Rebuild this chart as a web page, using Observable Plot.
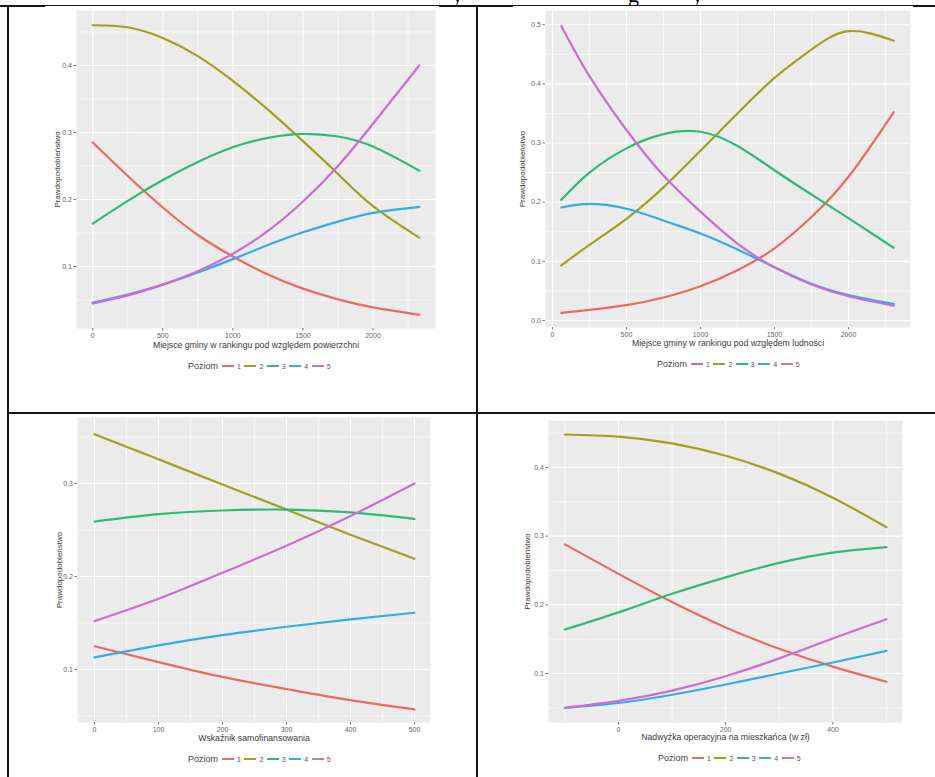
<!DOCTYPE html>
<html><head><meta charset="utf-8">
<script src="https://cdn.jsdelivr.net/npm/d3@7"></script>
<script src="https://cdn.jsdelivr.net/npm/@observablehq/plot@0.6"></script>
<style>
body{margin:0;background:#fff;}
#page{position:relative;width:935px;height:777px;overflow:hidden;font-family:"Liberation Sans",Arial,sans-serif;background:#fff;}
.rule{position:absolute;background:#151515;}
.legend{position:absolute;display:flex;align-items:center;height:12px;color:#444;white-space:nowrap;}
.legend .ttl{font-size:9px;margin-right:4px;}
.legend .key{display:inline-block;width:12px;height:2px;margin-right:3px;}
.legend .lab{font-size:7px;margin-right:3.5px;color:#555;}
.glyph{position:absolute;font-family:"Liberation Serif","Times New Roman",serif;font-size:22px;color:#000;line-height:1;}
#topclip{position:absolute;left:0;top:0;width:935px;height:5px;overflow:hidden;}
</style></head><body><div id="page"><div id="topclip"></div></div>
<script>
// ---------- shared ----------
const levels = ["1", "2", "3", "4", "5"];
const levelColors = ["#EE6A60", "#A3A01C", "#2DBB78", "#33ADEA", "#CF6BD5"];
const legendTitle = "Poziom";
const yTitle = "Prawdopodobieństwo";

// ---------- panel 1 : powierzchnia ----------
const p1Title = "Miejsce gminy w rankingu pod względem powierzchni";
const p1X = [0, 250, 500, 750, 1000, 1250, 1500, 1750, 2000, 2330];
const p1L1 = [0.285, 0.235, 0.188, 0.147, 0.115, 0.088, 0.067, 0.051, 0.039, 0.028];
const p1L2 = [0.460, 0.457, 0.441, 0.414, 0.377, 0.334, 0.287, 0.238, 0.190, 0.143];
const p1L3 = [0.164, 0.198, 0.229, 0.256, 0.278, 0.292, 0.298, 0.294, 0.279, 0.243];
const p1L4 = [0.046, 0.058, 0.073, 0.091, 0.111, 0.132, 0.151, 0.167, 0.180, 0.189];
const p1L5 = [0.045, 0.057, 0.073, 0.093, 0.119, 0.153, 0.197, 0.250, 0.313, 0.400];
const p1XTicks = [0, 500, 1000, 1500, 2000];
const p1YTicks = [0.1, 0.2, 0.3, 0.4];

// ---------- panel 2 : ludność ----------
const p2Title = "Miejsce gminy w rankingu pod względem ludności";
const p2X = [60, 250, 500, 750, 1000, 1250, 1500, 1750, 2000, 2305];
const p2L1 = [0.013, 0.018, 0.026, 0.039, 0.058, 0.085, 0.122, 0.175, 0.243, 0.352];
const p2L2 = [0.093, 0.128, 0.172, 0.225, 0.287, 0.350, 0.410, 0.458, 0.489, 0.473];
const p2L3 = [0.204, 0.250, 0.291, 0.315, 0.319, 0.295, 0.254, 0.213, 0.173, 0.123];
const p2L4 = [0.191, 0.197, 0.189, 0.169, 0.147, 0.120, 0.090, 0.062, 0.043, 0.028];
const p2L5 = [0.498, 0.413, 0.322, 0.245, 0.184, 0.130, 0.090, 0.061, 0.041, 0.025];
const p2XTicks = [0, 500, 1000, 1500, 2000];
const p2YTicks = [0.0, 0.1, 0.2, 0.3, 0.4, 0.5];

// ---------- panel 3 : samofinansowanie ----------
const p3Title = "Wskaźnik samofinansowania";
const p3X = [0, 100, 200, 300, 400, 500];
const p3L1 = [0.125, 0.108, 0.092, 0.079, 0.067, 0.057];
const p3L2 = [0.353, 0.326, 0.299, 0.272, 0.245, 0.219];
const p3L3 = [0.259, 0.267, 0.271, 0.272, 0.269, 0.262];
const p3L4 = [0.113, 0.126, 0.137, 0.146, 0.154, 0.161];
const p3L5 = [0.152, 0.176, 0.204, 0.233, 0.265, 0.300];
const p3XTicks = [0, 100, 200, 300, 400, 500];
const p3YTicks = [0.1, 0.2, 0.3];

// ---------- panel 4 : nadwyżka operacyjna ----------
const p4Title = "Nadwyżka operacyjna na mieszkańca (w zł)";
const p4X = [-100, 0, 100, 200, 300, 400, 500];
const p4L1 = [0.288, 0.245, 0.204, 0.167, 0.136, 0.110, 0.088];
const p4L2 = [0.448, 0.445, 0.435, 0.417, 0.391, 0.356, 0.313];
const p4L3 = [0.164, 0.189, 0.216, 0.240, 0.261, 0.276, 0.284];
const p4L4 = [0.050, 0.057, 0.069, 0.084, 0.100, 0.116, 0.133];
const p4L5 = [0.050, 0.060, 0.075, 0.096, 0.122, 0.151, 0.179];
const p4XTicks = [0, 200, 400];
const p4YTicks = [0.1, 0.2, 0.3, 0.4];

const page = document.getElementById("page");

function midpoints(ticks, lo, hi) {
  const step = ticks[1] - ticks[0];
  const out = [];
  for (let v = ticks[0] - step / 2; v <= hi; v += step) if (v >= lo) out.push(+v.toFixed(6));
  return out;
}

function makePanel(cfg) {
  const [bx0, by0, bx1, by1] = cfg.box;
  const [fx0, fy0, fx1, fy1] = cfg.frame;
  const rows = [];
  cfg.series.forEach((vals, i) => vals.forEach((v, j) => rows.push({x: cfg.x[j], y: v, level: levels[i]})));
  const xMinor = midpoints(cfg.xTicks, cfg.xDomain[0], cfg.xDomain[1]);
  const yMinor = midpoints(cfg.yTicks, cfg.yDomain[0], cfg.yDomain[1]);
  const chart = Plot.plot({
    width: bx1 - bx0,
    height: by1 - by0,
    marginLeft: fx0 - bx0,
    marginRight: bx1 - fx1,
    marginTop: fy0 - by0,
    marginBottom: by1 - fy1,
    style: {fontFamily: '"Liberation Sans", Arial, sans-serif', background: "transparent", overflow: "visible"},
    x: {domain: cfg.xDomain},
    y: {domain: cfg.yDomain},
    color: {domain: levels, range: levelColors},
    marks: [
      Plot.frame({fill: "#EBEBEB", stroke: "none"}),
      Plot.gridX(xMinor, {stroke: "#fff", strokeOpacity: 1, strokeWidth: 0.6}),
      Plot.gridY(yMinor, {stroke: "#fff", strokeOpacity: 1, strokeWidth: 0.6}),
      Plot.gridX(cfg.xTicks, {stroke: "#fff", strokeOpacity: 1, strokeWidth: 1.1}),
      Plot.gridY(cfg.yTicks, {stroke: "#fff", strokeOpacity: 1, strokeWidth: 1.1}),
      Plot.axisX(cfg.xTicks, {label: null, tickSize: 2.5, tickPadding: 2.5, fontSize: 7, stroke: "#777", fill: "#666", tickFormat: d => String(d)}),
      Plot.axisY(cfg.yTicks, {label: null, tickSize: 2.5, tickPadding: 2, fontSize: 7, stroke: "#777", fill: "#666", tickFormat: d3.format(".1f")}),
      Plot.line(rows, {x: "x", y: "y", z: "level", stroke: "level", curve: "natural", strokeWidth: 2.2, strokeLinecap: "round"}),
      Plot.text([cfg.title], {text: d => d, frameAnchor: "bottom", lineAnchor: "middle", textAnchor: "middle", dy: cfg.titleDy, fontSize: 8.7, fill: "#3a3a3a"}),
      Plot.text([yTitle], {text: d => d, frameAnchor: "left", lineAnchor: "middle", textAnchor: "middle", rotate: -90, dx: -cfg.yTitleDx, fontSize: 8, fill: "#3a3a3a"})
    ]
  });
  chart.style.position = "absolute";
  chart.style.left = bx0 + "px";
  chart.style.top = by0 + "px";
  page.appendChild(chart);

  // legend below the plot area
  const lg = document.createElement("div");
  lg.className = "legend";
  lg.style.left = cfg.legend[0] + "px";
  lg.style.top = (cfg.legend[1] - 6) + "px";
  const t = document.createElement("span");
  t.className = "ttl"; t.textContent = legendTitle; lg.appendChild(t);
  levels.forEach((l, i) => {
    const k = document.createElement("span");
    k.className = "key"; k.style.background = levelColors[i]; lg.appendChild(k);
    const s = document.createElement("span");
    s.className = "lab"; s.textContent = l; lg.appendChild(s);
  });
  page.appendChild(lg);
}

makePanel({box: [9, 7, 476, 412], frame: [76, 10, 435, 328], x: p1X, series: [p1L1, p1L2, p1L3, p1L4, p1L5],
  xDomain: [-116, 2446], yDomain: [0.0075, 0.482], xTicks: p1XTicks, yTicks: p1YTicks,
  title: p1Title, titleDy: 17, yTitleDx: 19, legend: [188, 366]});
makePanel({box: [479, 7, 935, 412], frame: [545, 10, 910, 327], x: p2X, series: [p2L1, p2L2, p2L3, p2L4, p2L5],
  xDomain: [-47, 2419], yDomain: [-0.0118, 0.524], xTicks: p2XTicks, yTicks: p2YTicks,
  title: p2Title, titleDy: 16, yTitleDx: 23, legend: [657, 364]});
makePanel({box: [9, 415, 476, 777], frame: [77, 417, 430, 722], x: p3X, series: [p3L1, p3L2, p3L3, p3L4, p3L5],
  xDomain: [-26.6, 525], yDomain: [0.043, 0.371], xTicks: p3XTicks, yTicks: p3YTicks,
  title: p3Title, titleDy: 16, yTitleDx: 18, legend: [188, 759]});
makePanel({box: [479, 415, 935, 777], frame: [548, 420, 902, 722], x: p4X, series: [p4L1, p4L2, p4L3, p4L4, p4L5],
  xDomain: [-130.6, 530], yDomain: [0.0286, 0.4684], xTicks: p4XTicks, yTicks: p4YTicks,
  title: p4Title, titleDy: 15, yTitleDx: 21, legend: [658, 758]});

// table rules
function rule(l, t, w, h) { const d = document.createElement("div"); d.className = "rule"; Object.assign(d.style, {left: l + "px", top: t + "px", width: w + "px", height: h + "px"}); page.appendChild(d); }
rule(0, 5, 935, 1);
rule(0, 5, 45, 2); rule(439, 5, 74, 2); rule(913, 5, 22, 2);
rule(7, 5, 2, 772);
rule(476, 5, 2, 772);
rule(7, 412, 928, 2);

// clipped descenders of the caption above the table
const clip = document.getElementById("topclip");
[["y", 452], ["g", 628], ["y", 692]].forEach(([c, x]) => {
  const g = document.createElement("div"); g.className = "glyph"; g.textContent = c;
  g.style.left = x + "px"; g.style.top = "-16px"; clip.appendChild(g);
});
</script></body></html>
